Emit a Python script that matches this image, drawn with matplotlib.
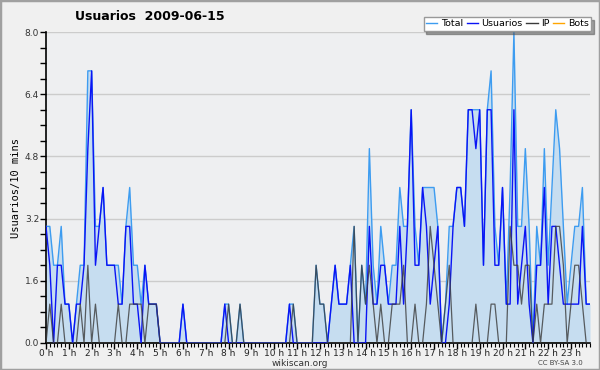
import matplotlib
matplotlib.use("Agg")
import matplotlib.pyplot as plt
from matplotlib.lines import Line2D
from matplotlib.patches import Rectangle
from matplotlib.ticker import MultipleLocator, FixedLocator
import numpy as np

# 10-minute slots over the day (144 values)
usuarios = [
    3, 2, 0, 2, 2, 1, 1, 0, 1, 1, 2, 5,
    7, 2, 3, 4, 2, 2, 2, 1, 1, 3, 3, 1,
    1, 0, 2, 1, 1, 1, 0, 0, 0, 0, 0, 0,
    1, 0, 0, 0, 0, 0, 0, 0, 0, 0, 0, 1,
    0, 0, 0, 0, 0, 0, 0, 0, 0, 0, 0, 0,
    0, 0, 0, 0, 1, 0, 0, 0, 0, 0, 0, 0,
    0, 0, 0, 1, 2, 1, 1, 1, 2, 0, 0, 0,
    0, 3, 1, 1, 2, 2, 1, 1, 1, 3, 1, 3,
    6, 2, 2, 4, 3, 1, 2, 3, 0, 0, 1, 3,
    4, 4, 3, 6, 6, 5, 6, 2, 6, 6, 2, 2,
    4, 1, 1, 6, 1, 2, 3, 1, 0, 2, 2, 4,
    1, 3, 3, 2, 1, 1, 1, 1, 1, 3, 1, 1,
]
ip = [
    0, 1, 0, 0, 1, 0, 0, 0, 0, 1, 0, 2,
    0, 1, 0, 0, 0, 0, 0, 1, 0, 0, 1, 1,
    1, 1, 0, 1, 1, 1, 0, 0, 0, 0, 0, 0,
    0, 0, 0, 0, 0, 0, 0, 0, 0, 0, 0, 0,
    1, 0, 0, 1, 0, 0, 0, 0, 0, 0, 0, 0,
    0, 0, 0, 0, 0, 1, 0, 0, 0, 0, 0, 2,
    1, 1, 0, 0, 0, 0, 0, 0, 0, 3, 0, 2,
    1, 2, 1, 0, 1, 0, 0, 1, 1, 1, 2, 0,
    0, 1, 0, 0, 1, 3, 2, 1, 0, 1, 2, 0,
    0, 0, 0, 0, 0, 1, 0, 0, 0, 1, 1, 0,
    0, 0, 3, 2, 2, 1, 2, 2, 0, 1, 0, 1,
    1, 1, 3, 3, 2, 0, 1, 2, 2, 1, 0, 0,
]
total = [
    3, 3, 2, 2, 3, 1, 1, 0, 1, 2, 2, 7,
    7, 3, 3, 4, 2, 2, 2, 2, 1, 3, 4, 2,
    2, 1, 2, 1, 1, 1, 0, 0, 0, 0, 0, 0,
    1, 0, 0, 0, 0, 0, 0, 0, 0, 0, 0, 1,
    1, 0, 0, 1, 0, 0, 0, 0, 0, 0, 0, 0,
    0, 0, 0, 0, 1, 1, 0, 0, 0, 0, 0, 2,
    1, 1, 0, 1, 2, 1, 1, 1, 2, 3, 0, 2,
    1, 5, 2, 1, 3, 2, 1, 2, 2, 4, 3, 3,
    6, 3, 2, 4, 4, 4, 4, 3, 0, 1, 3, 3,
    4, 4, 3, 6, 6, 6, 6, 2, 6, 7, 3, 2,
    4, 1, 4, 8, 3, 3, 5, 3, 0, 3, 2, 5,
    2, 4, 6, 5, 3, 1, 2, 3, 3, 4, 1, 1,
]
bots = [0] * 144

hour_labels = ["%d h" % h for h in range(24)]
y_ticks = [0.0, 1.6, 3.2, 4.8, 6.4, 8.0]

c_total = "#3d9cf0"
c_fill = "#c6ddf0"
c_users = "#0a14f5"
c_ip = "#3a3a3a"
c_bots = "#ffa500"

fig = plt.figure(figsize=(6, 3.7), dpi=100, facecolor="#f0f0f0")
ax = fig.add_axes([46 / 600, 1 - 343 / 370, 544 / 600, 311 / 370])
ax.set_facecolor("#eeeff1")

x = np.arange(len(total))
ax.fill_between(x, total, 0, color=c_fill, lw=0, zorder=1)
ax.plot(x, bots, color=c_bots, lw=1, zorder=2)
ax.plot(x, total, color=c_total, lw=1, zorder=3)
ax.plot(x, usuarios, color=c_users, lw=1, zorder=4)
ax.plot(x, ip, color=c_ip, lw=0.9, alpha=0.8, zorder=5)

ax.set_xlim(0, 143)
ax.set_ylim(0, 8)

for s in ("top", "right"):
    ax.spines[s].set_visible(False)
for s in ("left", "bottom"):
    ax.spines[s].set_color("black")
    ax.spines[s].set_linewidth(1.2)

ax.yaxis.set_major_locator(FixedLocator(y_ticks))
ax.yaxis.set_minor_locator(MultipleLocator(0.4))
ax.set_yticklabels(["%.1f" % v for v in y_ticks])
ax.xaxis.set_major_locator(FixedLocator(np.arange(0, 144, 6)))
ax.xaxis.set_minor_locator(MultipleLocator(1))
ax.set_xticklabels(hour_labels)

ax.tick_params(axis="y", which="both", direction="out", length=4, width=1,
               labelsize=6.5, labelcolor="#333333", pad=1)
ax.tick_params(axis="x", which="major", direction="out", length=4, width=1,
               labelsize=6.5, labelcolor="#222222", pad=0)
ax.tick_params(axis="x", which="minor", direction="out", length=3, width=0.8)

ax.grid(axis="y", which="major", color="#cccccc", lw=1)
ax.set_axisbelow(True)

ax.set_ylabel("Usuarios/10 mins", fontsize=7.5, family="DejaVu Sans Mono", labelpad=3)
fig.text(150 / 600, 1 - 16 / 370, "Usuarios  2009-06-15", ha="center", va="center",
         fontsize=9, fontweight="bold")
fig.text(300 / 600, 1 - 363 / 370, "wikiscan.org", ha="center", va="center",
         fontsize=6.5, color="#333333")
fig.text(560 / 600, 1 - 363 / 370, "CC BY-SA 3.0", ha="center", va="center",
         fontsize=5, color="#444444")

handles = [Line2D([], [], color=c, lw=1) for c in (c_total, c_users, c_ip, c_bots)]
leg = fig.legend(handles, ["Total", "Usuarios", "IP", "Bots"], ncol=4,
                 loc="upper right", bbox_to_anchor=(591 / 600, 1 - 17 / 370),
                 fontsize=6.8, frameon=True, fancybox=False, shadow=True,
                 handlelength=1.2, handletextpad=0.35, columnspacing=0.4,
                 borderpad=0.25, borderaxespad=0)
leg.get_frame().set_edgecolor("#999999")
leg.get_frame().set_facecolor("white")
leg.set_zorder(10)

fig.patches.append(Rectangle((0, 0), 1, 1, transform=fig.transFigure, fill=False,
                             edgecolor="#a0a0a0", lw=2.5))

fig.savefig("out.png", dpi=100, facecolor=fig.get_facecolor())
